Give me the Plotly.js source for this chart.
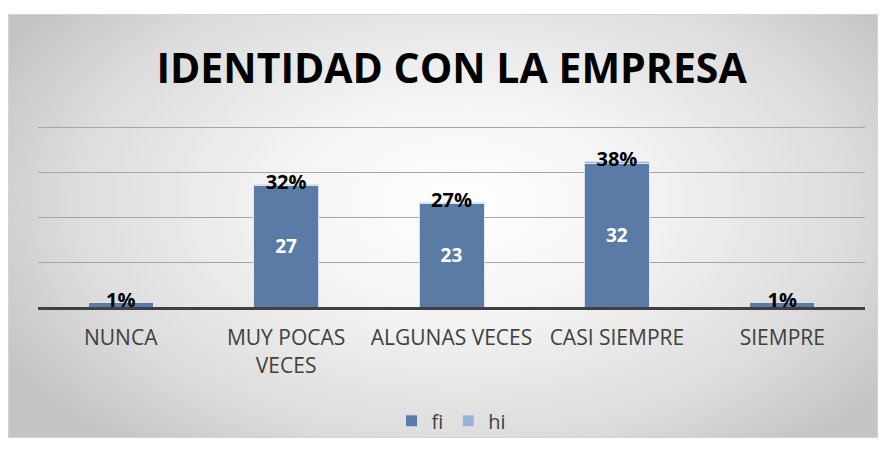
<!DOCTYPE html>
<html>
<head>
<meta charset="utf-8">
<script src="https://cdn.plot.ly/plotly-3.0.1.min.js"></script>
<style>
  html, body { margin: 0; padding: 0; background: #ffffff; }
  #wrap { position: relative; width: 882px; height: 450px; }
  #bg {
    position: absolute; left: 8px; top: 14px; width: 868px; height: 422px;
    border: 1px solid #d4d4d4;
    background: radial-gradient(ellipse 60% 75% at 52% 45%, #ffffff 0%, #f4f4f4 35%, #dcdcdc 75%, #c4c4c4 100%);
  }
  #chart { position: absolute; left: 0; top: 0; width: 882px; height: 450px; }
</style>
</head>
<body>
<div id="wrap">
  <div id="bg"></div>
  <div id="chart"></div>
</div>
<script>
const categories = ['NUNCA', 'MUY POCAS<br>VECES', 'ALGUNAS VECES', 'CASI SIEMPRE', 'SIEMPRE'];
const fi = [1, 27, 23, 32, 1];
const hi = [0.01, 0.32, 0.27, 0.38, 0.01];
const hiLabels = ['1%', '32%', '27%', '38%', '1%'];
const yTicks = [0, 10, 20, 30, 40];

const FONT = '"Open Sans", sans-serif';

const stackTop = fi.map((v, i) => v + hi[i]);

const traces = [
  {
    type: 'bar', name: 'fi', x: categories, y: fi,
    marker: { color: '#5a7ba6', line: { color: 'rgba(225,232,244,0.9)', width: 1 } },
    text: fi.map(String), textposition: 'inside', insidetextanchor: 'middle',
    textfont: { family: FONT, size: 19, color: '#ffffff', weight: 'bold' },
    hoverinfo: 'skip'
  },
  {
    type: 'bar', name: 'hi', x: categories, y: hi,
    marker: { color: '#9cb2d8', line: { color: 'rgba(225,232,244,0.9)', width: 1 } },
    hoverinfo: 'skip'
  },
  {
    type: 'scatter', mode: 'text', x: categories, y: stackTop,
    text: hiLabels, textposition: 'middle center',
    textfont: { family: FONT, size: 20, color: '#000000', weight: 'bold' },
    showlegend: false, hoverinfo: 'skip', cliponaxis: false
  }
];

const layout = {
  width: 882, height: 450,
  paper_bgcolor: 'rgba(0,0,0,0)', plot_bgcolor: 'rgba(0,0,0,0)',
  margin: { l: 38, r: 17, t: 123, b: 142 },
  barmode: 'stack', bargap: 0.607,
  uniformtext: { minsize: 10, mode: 'hide' },
  title: {
    text: '<b>IDENTIDAD CON LA EMPRESA</b>',
    font: { family: FONT, size: 41, color: '#000000' },
    x: 0.512, xanchor: 'center', y: 0.848, yanchor: 'middle'
  },
  xaxis: {
    showline: true, linecolor: '#404040', linewidth: 3,
    tickfont: { family: FONT, size: 21, color: '#404040' },
    ticks: '', ticklabelstandoff: 10, fixedrange: true
  },
  yaxis: {
    range: [0, 40.9], tickvals: yTicks, showticklabels: false,
    showgrid: true, gridcolor: '#a6a6a6', gridwidth: 1,
    zeroline: false, fixedrange: true
  },
  legend: {
    orientation: 'h', x: 0.5, xanchor: 'center', y: -0.61, yanchor: 'middle',
    font: { family: FONT, size: 20, color: '#404040' },
    bgcolor: 'rgba(0,0,0,0)', traceorder: 'normal', itemwidth: 30
  },
  showlegend: true
};

Plotly.newPlot('chart', traces, layout, { displayModeBar: false, staticPlot: true });
</script>
</body>
</html>
